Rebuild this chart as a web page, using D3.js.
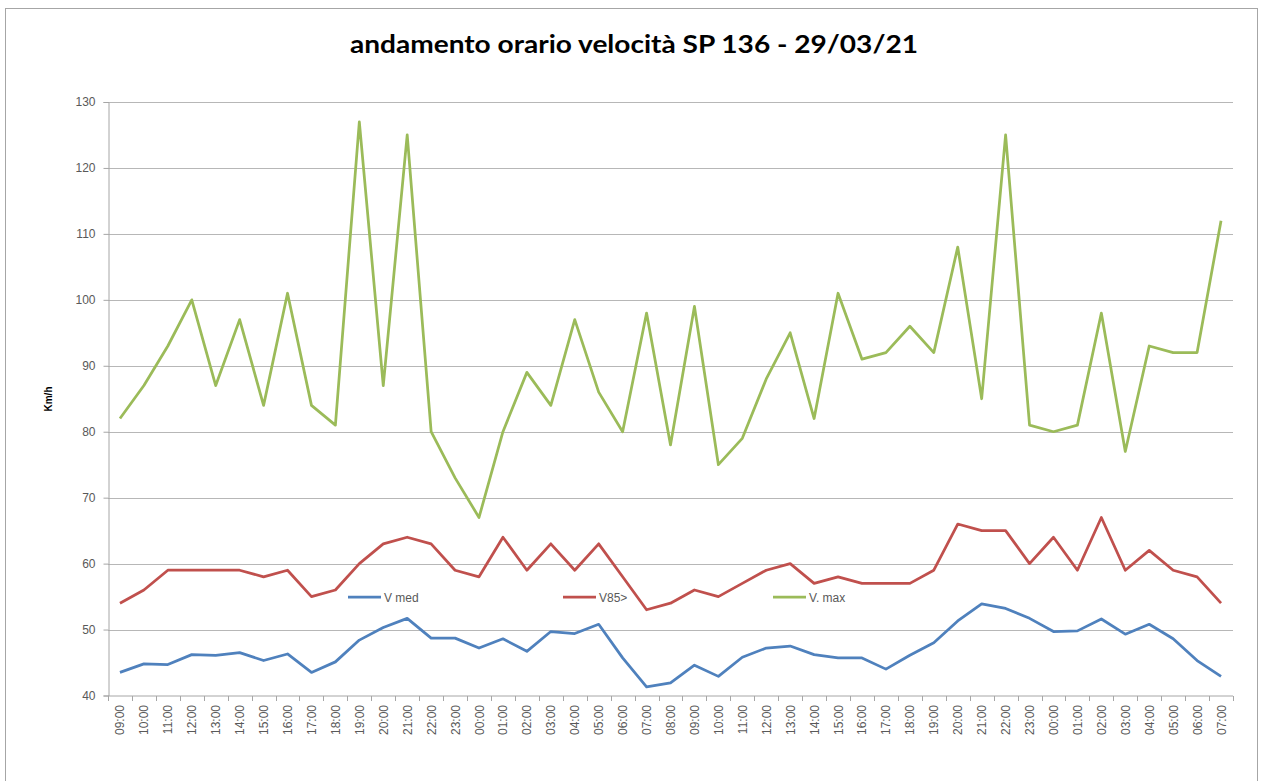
<!DOCTYPE html>
<html>
<head>
<meta charset="utf-8">
<script src="https://cdnjs.cloudflare.com/ajax/libs/d3/7.8.5/d3.min.js"></script>
<style>
  body { margin: 0; background: #fff; }
  svg { display: block; }
</style>
</head>
<body>
<svg width="1263" height="781"></svg>
<script>
// hourly labels, 09:00 of day 1 to 07:00 of day 3
var hours = ["09:00","10:00","11:00","12:00","13:00","14:00","15:00","16:00","17:00","18:00",
    "19:00","20:00","21:00","22:00","23:00","00:00","01:00","02:00","03:00","04:00","05:00",
    "06:00","07:00","08:00","09:00","10:00","11:00","12:00","13:00","14:00","15:00","16:00",
    "17:00","18:00","19:00","20:00","21:00","22:00","23:00","00:00","01:00","02:00","03:00",
    "04:00","05:00","06:00","07:00"];

var vMed = [43.5,44.8,44.7,46.2,46.1,46.5,45.3,46.3,43.5,45.1,48.4,50.3,51.7,48.7,48.7,47.2,
    48.6,46.7,49.7,49.4,50.8,45.7,41.3,41.9,44.6,42.9,45.8,47.2,47.5,46.2,45.7,45.7,44.0,46.1,
    48.0,51.3,53.9,53.2,51.7,49.7,49.8,51.6,49.3,50.8,48.6,45.3,42.9];

var v85 = [54,56,59,59,59,59,58,59,55,56,60,63,64,63,59,58,64,59,63,59,63,58,53,54,56,55,57,
    59,60,57,58,57,57,57,59,66,65,65,60,64,59,67,59,62,59,58,54];

var vMax = [82,87,93,100,87,97,84,101,84,81,127,87,125,80,73,67,80,89,84,97,86,80,98,78,99,
    75,79,88,95,82,101,91,92,96,92,108,85,125,81,80,81,98,77,93,92,92,112];

var seriesNames = ["V med", "V85>", "V. max"];
var seriesColors = ["#4f81bd", "#c0504d", "#9bbb59"];
var yTicks = [40, 50, 60, 70, 80, 90, 100, 110, 120, 130];

var svg = d3.select("svg");

// outer chart frame
svg.append("rect")
    .attr("x", 5.5).attr("y", 8.5)
    .attr("width", 1252).attr("height", 790)
    .attr("fill", "none")
    .attr("stroke", "#a6a6a6")
    .attr("stroke-width", 1);

svg.append("text")
    .attr("x", 634).attr("y", 53)
    .attr("text-anchor", "middle")
    .style("font-family", "Lato, 'Open Sans', sans-serif")
    .style("font-weight", "bold")
    .style("font-size", "24px")
    .attr("textLength", 568)
    .attr("lengthAdjust", "spacingAndGlyphs")
    .attr("fill", "#000")
    .text("andamento orario velocità SP 136 - 29/03/21");

var plotLeft = 108, plotRight = 1233, plotTop = 102, plotBottom = 695.5;

var x = d3.scaleBand()
    .domain(d3.range(hours.length))
    .range([plotLeft, plotRight]);

var y = d3.scaleLinear()
    .domain([40, 130])
    .range([plotBottom, plotTop]);

// gridlines
svg.append("g")
    .selectAll("line")
    .data(yTicks.slice(1))
    .enter()
    .append("line")
    .attr("x1", plotLeft).attr("x2", plotRight)
    .attr("y1", function (d) { return Math.round(y(d)) + 0.5; })
    .attr("y2", function (d) { return Math.round(y(d)) + 0.5; })
    .attr("stroke", "#b7b7b7")
    .attr("stroke-width", 1);

// y axis
var yAxis = svg.append("g")
    .attr("transform", "translate(" + (plotLeft + 0.5) + ",0)")
    .call(d3.axisLeft(y).tickValues(yTicks).tickSize(5).tickPadding(8));
yAxis.select(".domain").attr("stroke", "#a6a6a6");
yAxis.selectAll(".tick line").attr("stroke", "#a6a6a6");
yAxis.selectAll(".tick text")
    .attr("fill", "#595959")
    .style("font-family", "'Liberation Sans', Arial, sans-serif")
    .style("font-size", "12px");

svg.append("text")
    .attr("transform", "translate(52,399) rotate(-90)")
    .attr("text-anchor", "middle")
    .style("font-family", "'Liberation Sans', Arial, sans-serif")
    .style("font-weight", "bold")
    .style("font-size", "10px")
    .attr("fill", "#000")
    .text("Km/h");

// x axis: ticks sit between categories
var xAxis = svg.append("g")
    .attr("transform", "translate(0," + (plotBottom + 0.5) + ")");
xAxis.append("line")
    .attr("x1", plotLeft).attr("x2", plotRight)
    .attr("stroke", "#a6a6a6");
xAxis.selectAll("line.tk")
    .data(d3.range(hours.length + 1))
    .enter()
    .append("line")
    .attr("class", "tk")
    .attr("x1", function (d) { return Math.round(plotLeft + d * x.bandwidth()) + 0.5; })
    .attr("x2", function (d) { return Math.round(plotLeft + d * x.bandwidth()) + 0.5; })
    .attr("y1", 0).attr("y2", 5)
    .attr("stroke", "#a6a6a6");
xAxis.selectAll("text")
    .data(hours)
    .enter()
    .append("text")
    .attr("transform", function (d, i) {
        return "translate(" + (x(i) + x.bandwidth() / 2 + 4.5) + ",9) rotate(-90)";
    })
    .attr("text-anchor", "end")
    .attr("fill", "#595959")
    .style("font-family", "'Liberation Sans', Arial, sans-serif")
    .style("font-size", "12px")
    .text(function (d) { return d; });

// lines
var line = d3.line()
    .x(function (d, i) { return x(i) + x.bandwidth() / 2; })
    .y(function (d) { return y(d); });

[vMed, v85, vMax].forEach(function (s, k) {
    svg.append("path")
        .datum(s)
        .attr("d", line)
        .attr("fill", "none")
        .attr("stroke", seriesColors[k])
        .attr("stroke-width", 2.75)
        .attr("stroke-linejoin", "round");
});

// legend inside plot
var legendX = [348, 563, 773];
var legend = svg.append("g")
    .selectAll("g")
    .data(seriesNames)
    .enter()
    .append("g")
    .attr("transform", function (d, i) { return "translate(" + legendX[i] + ",597)"; });
legend.append("line")
    .attr("x1", 0).attr("x2", 33)
    .attr("stroke", function (d, i) { return seriesColors[i]; })
    .attr("stroke-width", 2.75);
legend.append("text")
    .attr("x", 36).attr("y", 4.5)
    .attr("fill", "#595959")
    .style("font-family", "'Liberation Sans', Arial, sans-serif")
    .style("font-size", "12px")
    .text(function (d) { return d; });
</script>
</body>
</html>
